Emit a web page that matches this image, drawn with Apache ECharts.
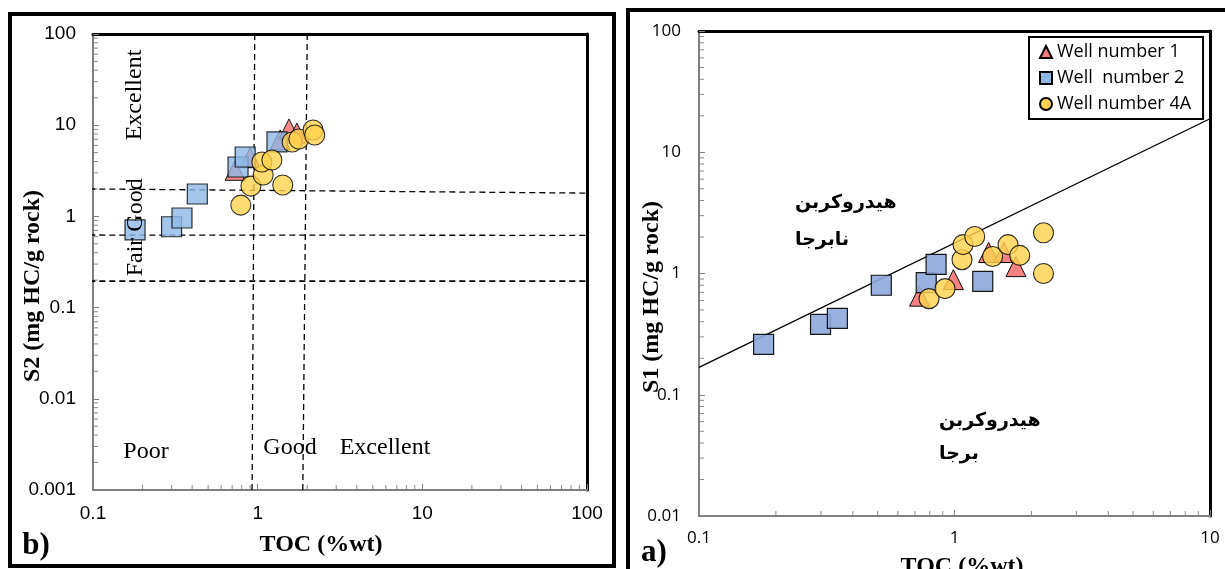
<!DOCTYPE html>
<html><head><meta charset="utf-8">
<script src="https://cdn.jsdelivr.net/npm/echarts@6/dist/echarts.min.js"></script>
<style>html,body{margin:0;padding:0;background:#fff}#c{width:1225px;height:569px}</style>
</head><body><div id="c"></div>
<script>
// ---------- DATA ----------
const seriesNames = ['Well number 1', 'Well  number 2', 'Well number 4A'];

// Panel b) : S2 vs TOC
const b_well1_toc = [0.73, 0.90, 1.37, 1.55, 1.73];
const b_well1_s2  = [3.2, 4.4, 6.9, 9.1, 8.2];
const b_well2_toc = [0.18, 0.30, 0.347, 0.43, 0.76, 0.84, 1.31];
const b_well2_s2  = [0.71, 0.77, 0.96, 1.76, 3.48, 4.48, 6.55];
const b_well4a_toc = [0.79, 0.91, 1.08, 1.06, 1.22, 1.42, 1.62, 1.78, 2.17, 2.22];
const b_well4a_s2  = [1.33, 2.15, 2.84, 3.95, 4.15, 2.21, 6.55, 7.06, 8.85, 7.8];

// Panel b) class boundaries (TOC, S2 endpoints)
const b_vline1 = [[0.96, 100], [0.925, 0.001]];
const b_vline2 = [[2.0, 100], [1.88, 0.001]];
const b_hline1 = [[0.095, 2.0], [100, 1.8]];
const b_hline2 = [[0.095, 0.625], [100, 0.62]];
const b_hline3 = [[0.095, 0.195], [100, 0.195]];

// Panel a) : S1 vs TOC
const a_well1_toc = [0.73, 0.99, 1.36, 1.56, 1.74];
const a_well1_s1  = [0.65, 0.89, 1.49, 1.49, 1.14];
const a_well2_toc = [0.179, 0.299, 0.348, 0.517, 0.775, 0.847, 1.29];
const a_well2_s1  = [0.26, 0.38, 0.427, 0.80, 0.84, 1.19, 0.86];
const a_well4a_toc = [0.795, 0.918, 1.07, 1.08, 1.2, 1.41, 1.62, 1.80, 2.23, 2.23];
const a_well4a_s1  = [0.62, 0.75, 1.30, 1.73, 2.02, 1.38, 1.73, 1.41, 2.17, 1.0];
const a_divider = [[0.1, 0.168], [10, 18.9]];

// Tick labels
const b_xTicks = ['0.1', '1', '10', '100'];
const b_yTicks = ['0.001', '0.01', '0.1', '1', '10', '100'];
const a_xTicks = ['0.1', '1', '10'];
const a_yTicks = ['0.01', '0.1', '1', '10', '100'];
const minorMultipliers = [2, 3, 4, 5, 6, 7, 8, 9];

// ---------- BUILD ----------
const zip = (xs, ys) => xs.map((x, i) => [x, ys[i]]);
const tickVal = s => parseFloat(s);
function labelFmt(ticks) {
  return v => {
    for (const t of ticks) if (Math.abs(Math.log10(v) - Math.log10(tickVal(t))) < 1e-6) return t;
    return '';
  };
}
function minorData(xTicks, yTicks) {
  const xMin = tickVal(xTicks[0]), yMin = tickVal(yTicks[0]);
  const out = [];
  yTicks.slice(0, -1).forEach(t => minorMultipliers.forEach(m => out.push([xMin, tickVal(t) * m, 0])));
  xTicks.slice(0, -1).forEach(t => minorMultipliers.forEach(m => out.push([tickVal(t) * m, yMin, 1])));
  return out;
}
function minorSeries(idx, xTicks, yTicks) {
  return {
    type: 'custom', xAxisIndex: idx * 2, yAxisIndex: idx * 2, clip: false, silent: true, z: 1,
    data: minorData(xTicks, yTicks), encode: { x: 0, y: 1 },
    renderItem: (params, api) => {
      const p = api.coord([api.value(0), api.value(1)]);
      const kind = api.value(2);
      const shape = kind === 0
        ? { x1: p[0] + 1, y1: p[1], x2: p[0] + 5, y2: p[1] }
        : { x1: p[0], y1: p[1] - 1, x2: p[0], y2: p[1] - 5 };
      return { type: 'line', shape, style: { stroke: '#8a8a8a', lineWidth: 1 } };
    }
  };
}
function mainX(idx, ticks, fontFam, fontSize, margin) {
  return {
    gridIndex: idx, type: 'log', logBase: 10, min: tickVal(ticks[0]), max: tickVal(ticks[ticks.length - 1]),
    position: 'bottom',
    axisLine: { show: true, lineStyle: { color: '#808080', width: 2 } },
    axisTick: { show: true, inside: true, length: 6, lineStyle: { color: '#808080', width: 1 } },
    axisLabel: { formatter: labelFmt(ticks), color: '#000', fontFamily: fontFam, fontSize, margin, showMinLabel: true, showMaxLabel: true },
    splitLine: { show: false }
  };
}
function mainY(idx, ticks, fontFam, fontSize, margin) {
  return {
    gridIndex: idx, type: 'log', logBase: 10, min: tickVal(ticks[0]), max: tickVal(ticks[ticks.length - 1]),
    position: 'left',
    axisLine: { show: true, lineStyle: { color: '#808080', width: 2 } },
    axisTick: { show: true, inside: true, length: 6, lineStyle: { color: '#808080', width: 1 } },
    axisLabel: { formatter: labelFmt(ticks), color: '#000', fontFamily: fontFam, fontSize, margin, showMinLabel: true, showMaxLabel: true },
    splitLine: { show: false }
  };
}
function borderAxis(kind, idx, ticks) {
  return {
    gridIndex: idx, type: 'log', logBase: 10, min: tickVal(ticks[0]), max: tickVal(ticks[ticks.length - 1]),
    position: kind === 'x' ? 'top' : 'right',
    axisLine: { show: true, onZero: false, lineStyle: { color: '#000', width: 3 } },
    axisTick: { show: false }, axisLabel: { show: false }, splitLine: { show: false }
  };
}
const triStyle = (op) => ({ color: '#F47C7C', borderColor: '#000', borderWidth: 1, opacity: op });
const sqStyle = (c, op) => ({ color: c, borderColor: '#000', borderWidth: 1.2, opacity: op });
const ciStyle = (c, op) => ({ color: c, borderColor: '#000', borderWidth: 1.1, opacity: op });
function dashed(data, w) {
  return { type: 'line', xAxisIndex: 0, yAxisIndex: 0, data, symbol: 'none', clip: false, silent: true,
    lineStyle: { color: '#000', width: w, type: [6, 4] }, z: 1 };
}
function txt(text, x, y, font, opts = {}) {
  return {
    type: 'text', x, y, rotation: opts.rot || 0, silent: true, z: 100,
    style: { text, font, fill: '#000', align: opts.align || 'center', verticalAlign: 'middle' }
  };
}

const serif = '"Liberation Serif", "DejaVu Serif", serif';
const arab = '"DejaVu Sans", sans-serif';
const R = Math.PI / 2;

const option = {
  animation: false,
  backgroundColor: '#fff',
  grid: [
    { left: 93, top: 34, width: 494, height: 456, containLabel: false },
    { left: 699, top: 31, width: 511, height: 485, containLabel: false }
  ],
  xAxis: [
    mainX(0, b_xTicks, '"Liberation Sans", Arial, sans-serif', 19, 14),
    borderAxis('x', 0, b_xTicks),
    mainX(1, a_xTicks, '"Open Sans", sans-serif', 17, 14),
    borderAxis('x', 1, a_xTicks)
  ],
  yAxis: [
    mainY(0, b_yTicks, '"Liberation Sans", Arial, sans-serif', 19, 17),
    borderAxis('y', 0, b_yTicks),
    mainY(1, a_yTicks, '"Open Sans", sans-serif', 17, 18),
    borderAxis('y', 1, a_yTicks)
  ],
  legend: {
    data: seriesNames, left: 1029, top: 37, orient: 'vertical',
    itemWidth: 12, itemHeight: 12, itemGap: 8,
    padding: [6, 12, 6, 10],
    borderColor: '#000', borderWidth: 2, backgroundColor: '#fff',
    textStyle: { fontFamily: '"Open Sans", sans-serif', fontSize: 18, color: '#000' },
    itemStyle: { opacity: 1 }
  },
  graphic: [
    { type: 'rect', shape: { x: 10, y: 14, width: 604, height: 552 }, style: { fill: 'none', stroke: '#000', lineWidth: 4 }, silent: true },
    { type: 'rect', shape: { x: 628, y: 10, width: 660, height: 620 }, style: { fill: 'none', stroke: '#000', lineWidth: 4 }, silent: true },
    // panel b texts
    txt('Excellent', 135, 95, '24px ' + serif, { rot: R }),
    txt('Good', 136, 205, '24px ' + serif, { rot: R }),
    txt('Fair', 136, 257, '24px ' + serif, { rot: R }),
    txt('Poor', 146, 452, '24px ' + serif),
    txt('Good', 290, 448, '24px ' + serif),
    txt('Excellent', 385, 448, '24px ' + serif),
    txt('S2 (mg HC/g rock)', 33, 286, 'bold 24px ' + serif, { rot: R }),
    txt('TOC (%wt)', 321, 545, 'bold 24px ' + serif),
    txt('b)', 36, 546, 'bold 31px ' + serif),
    // panel a texts
    txt('S1 (mg HC/g rock)', 652, 297, 'bold 24px ' + serif, { rot: R }),
    txt('TOC (%wt)', 962, 567, 'bold 24px ' + serif),
    txt('a)', 654, 553, 'bold 31px ' + serif),
    txt('هیدروکربن', 795, 203, 'bold 19px ' + arab, { align: 'left' }),
    txt('نابرجا', 795, 240, 'bold 19px ' + arab, { align: 'left' }),
    txt('هیدروکربن', 939, 421, 'bold 19px ' + arab, { align: 'left' }),
    txt('برجا', 939, 454, 'bold 19px ' + arab, { align: 'left' })
  ],
  series: [
    minorSeries(0, b_xTicks, b_yTicks),
    minorSeries(1, a_xTicks, a_yTicks),
    dashed(b_vline1, 1.3), dashed(b_vline2, 1.3),
    dashed(b_hline1, 1.3), dashed(b_hline2, 1.3), dashed(b_hline3, 1.8),
    { type: 'line', xAxisIndex: 2, yAxisIndex: 2, data: a_divider, symbol: 'none', silent: true, z: 1,
      lineStyle: { color: '#000', width: 1.3 } },
    // panel b markers
    { name: seriesNames[0], type: 'scatter', xAxisIndex: 0, yAxisIndex: 0, symbol: 'triangle', symbolSize: 20,
      data: zip(b_well1_toc, b_well1_s2), itemStyle: triStyle(0.9) },
    { name: seriesNames[1], type: 'scatter', xAxisIndex: 0, yAxisIndex: 0, symbol: 'rect', symbolSize: 20,
      data: zip(b_well2_toc, b_well2_s2), itemStyle: sqStyle('#8DB8E6', 0.8) },
    { name: seriesNames[2], type: 'scatter', xAxisIndex: 0, yAxisIndex: 0, symbol: 'circle', symbolSize: 20,
      data: zip(b_well4a_toc, b_well4a_s2), itemStyle: ciStyle('#FFD24D', 0.8) },
    // panel a markers
    { name: seriesNames[0], type: 'scatter', xAxisIndex: 2, yAxisIndex: 2, symbol: 'triangle', symbolSize: 20,
      data: zip(a_well1_toc, a_well1_s1), itemStyle: triStyle(0.95) },
    { name: seriesNames[1], type: 'scatter', xAxisIndex: 2, yAxisIndex: 2, symbol: 'rect', symbolSize: 20,
      data: zip(a_well2_toc, a_well2_s1), itemStyle: sqStyle('#8EA9DB', 0.9) },
    { name: seriesNames[2], type: 'scatter', xAxisIndex: 2, yAxisIndex: 2, symbol: 'circle', symbolSize: 20,
      data: zip(a_well4a_toc, a_well4a_s1), itemStyle: ciStyle('#FFD34F', 0.82) }
  ]
};

const chart = echarts.init(document.getElementById('c'), null, { renderer: 'canvas' });
chart.setOption(option);
</script>
</body></html>
